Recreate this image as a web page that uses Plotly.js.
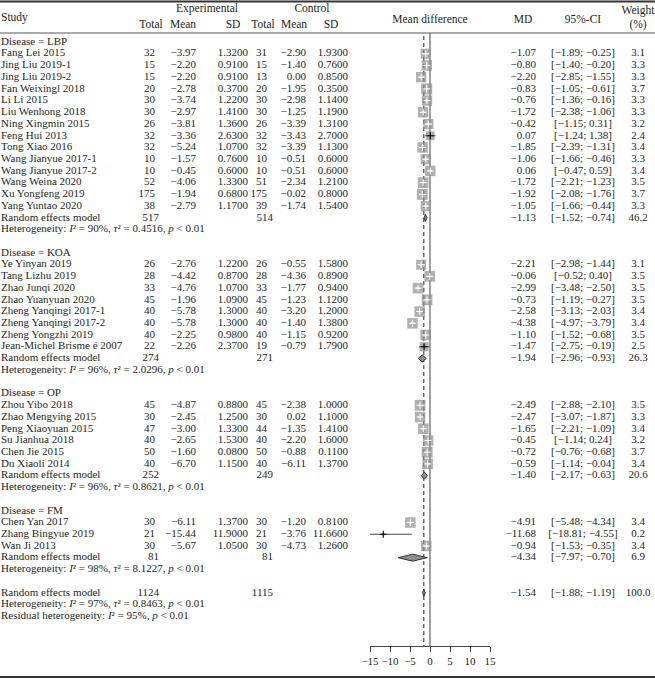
<!DOCTYPE html>
<html>
<head>
<meta charset="utf-8">
<script src="https://cdn.plot.ly/plotly-3.0.1.min.js"></script>
<style>html,body{margin:0;padding:0;background:#fff;}#chart{width:655px;height:680px;}</style>
</head>
<body>
<div id="chart"></div>
<script>
// ---------------- DATA ----------------
const groupNames = ['LBP', 'KOA', 'OP', 'FM'];

const studyNames = [
  'Fang Lei 2015', 'Jing Liu 2019-1', 'Jing Liu 2019-2', 'Fan Weixingl 2018', 'Li Li 2015',
  'Liu Wenhong 2018', 'Ning Xingmin 2015', 'Feng Hui 2013', 'Tong Xiao 2016', 'Wang Jianyue 2017-1',
  'Wang Jianyue 2017-2', 'Wang Weina 2020', 'Xu Yongfeng 2019', 'Yang Yuntao 2020',
  'Ye Yinyan 2019', 'Tang Lizhu 2019', 'Zhao Junqi 2020', 'Zhao Yuanyuan 2020', 'Zheng Yanqingi 2017-1',
  'Zheng Yanqingi 2017-2', 'Zheng Yongzhi 2019', 'Jean-Michel Brisme é 2007',
  'Zhou Yibo 2018', 'Zhao Mengying 2015', 'Peng Xiaoyuan 2015', 'Su Jianhua 2018', 'Chen Jie 2015', 'Du Xiaoli 2014',
  'Chen Yan 2017', 'Zhang Bingyue 2019', 'Wan Ji 2013'
];
const studyGroup = [0,0,0,0,0,0,0,0,0,0,0,0,0,0, 1,1,1,1,1,1,1,1, 2,2,2,2,2,2, 3,3,3];

const expTotal = [32,15,15,20,30,30,26,32,32,10,10,52,175,38, 26,28,33,45,40,40,40,22, 45,30,47,40,50,40, 30,21,30];
const expMean  = [-3.97,-2.20,-2.20,-2.78,-3.74,-2.97,-3.81,-3.36,-5.24,-1.57,-0.45,-4.06,-1.94,-2.79,
                  -2.76,-4.42,-4.76,-1.96,-5.78,-5.78,-2.25,-2.26,
                  -4.87,-2.45,-3.00,-2.65,-1.60,-6.70,
                  -6.11,-15.44,-5.67];
const expSD    = [1.32,0.91,0.91,0.37,1.22,1.41,1.36,2.63,1.07,0.76,0.60,1.33,0.68,1.17,
                  1.22,0.87,1.07,1.09,1.30,1.30,0.98,2.37,
                  0.88,1.25,1.33,1.53,0.08,1.15,
                  1.37,11.90,1.05];
const ctrlTotal = [31,15,13,20,30,30,26,32,32,10,10,51,175,39, 26,28,33,45,40,40,40,19, 45,30,44,40,50,40, 30,21,30];
const ctrlMean  = [-2.90,-1.40,0.00,-1.95,-2.98,-1.25,-3.39,-3.43,-3.39,-0.51,-0.51,-2.34,-0.02,-1.74,
                   -0.55,-4.36,-1.77,-1.23,-3.20,-1.40,-1.15,-0.79,
                   -2.38,0.02,-1.35,-2.20,-0.88,-6.11,
                   -1.20,-3.76,-4.73];
const ctrlSD    = [1.93,0.76,0.85,0.35,1.14,1.19,1.31,2.70,1.13,0.60,0.60,1.21,0.80,1.54,
                   1.58,0.89,0.94,1.12,1.20,1.38,0.92,1.79,
                   1.00,1.10,1.41,1.60,0.11,1.37,
                   0.81,11.66,1.26];
const mdValues = [-1.07,-0.80,-2.20,-0.83,-0.76,-1.72,-0.42,0.07,-1.85,-1.06,0.06,-1.72,-1.92,-1.05,
                  -2.21,-0.06,-2.99,-0.73,-2.58,-4.38,-1.10,-1.47,
                  -2.49,-2.47,-1.65,-0.45,-0.72,-0.59,
                  -4.91,-11.68,-0.94];
const ciLower = [-1.89,-1.40,-2.85,-1.05,-1.36,-2.38,-1.15,-1.24,-2.39,-1.66,-0.47,-2.21,-2.08,-1.66,
                 -2.98,-0.52,-3.48,-1.19,-3.13,-4.97,-1.52,-2.75,
                 -2.88,-3.07,-2.21,-1.14,-0.76,-1.14,
                 -5.48,-18.81,-1.53];
const ciUpper = [-0.25,-0.20,-1.55,-0.61,-0.16,-1.06,0.31,1.38,-1.31,-0.46,0.59,-1.23,-1.76,-0.44,
                 -1.44,0.40,-2.50,-0.27,-2.03,-3.79,-0.68,-0.19,
                 -2.10,-1.87,-1.09,0.24,-0.68,-0.04,
                 -4.34,-4.55,-0.35];
const weights = [3.1,3.3,3.3,3.7,3.3,3.3,3.2,2.4,3.4,3.3,3.4,3.5,3.7,3.3,
                 3.1,3.5,3.5,3.5,3.4,3.4,3.5,2.5,
                 3.5,3.3,3.4,3.2,3.7,3.4,
                 3.4,0.2,3.4];

const groupExpTotal  = [517, 274, 252, 81];
const groupCtrlTotal = [514, 271, 249, 81];
const groupMD        = [-1.13, -1.94, -1.40, -4.34];
const groupLower     = [-1.52, -2.96, -2.17, -7.97];
const groupUpper     = [-0.74, -0.93, -0.63, -0.70];
const groupWeight    = [46.2, 26.3, 20.6, 6.9];
const groupI2        = ['90%', '96%', '96%', '98%'];
const groupTau2      = ['0.4516', '2.0296', '0.8621', '8.1227'];

const overallExpTotal = 1124, overallCtrlTotal = 1115;
const overallMD = -1.54, overallLower = -1.88, overallUpper = -1.19, overallWeight = 100.0;
const overallI2 = '97%', overallTau2 = '0.8463', residualI2 = '95%';

const xTickVals = [-15, -10, -5, 0, 5, 10, 15];

// ---------------- LAYOUT HELPERS ----------------
const W = 655, H = 680;
const ROW0 = 42, ROWH = 11.72;            // pixel of row 0 and row height
const toRow = py => (py - ROW0) / ROWH;   // pixel -> row units
const FONT = 'Liberation Serif, Times New Roman, serif';
const FS = 11;
const TXT = '#231f20';

const m = v => (v < 0 ? '\u2212' : '') + Math.abs(v).toFixed(2);
const sd = v => v.toFixed(4);
const ci = (a, b) => '[' + m(a) + '; ' + m(b) + ']';
const het = (i2, t2) => 'Heterogeneity: <i>I</i>\u00b2 = ' + i2 + ', <i>\u03c4</i>\u00b2 = ' + t2 + ', <i>p</i> &lt; 0.01';

// columns (paper pixel x)
const COL = {study: 1, eTot: 155, eMean: 196, eSD: 248, cTot: 267, cMean: 306, cSD: 348,
             md: 536, ci: 583, w: 638, eTotRE: 159, cTotRE: 273};

const cells = {};
function cell(col, row, text) {
  (cells[col] = cells[col] || {x: [], y: [], t: []});
  cells[col].x.push(COL[col]); cells[col].y.push(row); cells[col].t.push(text);
}

const sqX = [], sqY = [], sqS = [];
const inX = [], inY = [], inP = [], inM = [];
const outX = [], outY = [], outP = [], outM = [];
const diamonds = [];

let r = 0;
groupNames.forEach((g, gi) => {
  cell('study', r, 'Disease = ' + g);
  r++;
  studyNames.forEach((name, i) => {
    if (studyGroup[i] !== gi) return;
    cell('study', r, name);
    cell('eTot', r, String(expTotal[i]));
    cell('eMean', r, m(expMean[i]));
    cell('eSD', r, sd(expSD[i]));
    cell('cTot', r, String(ctrlTotal[i]));
    cell('cMean', r, m(ctrlMean[i]));
    cell('cSD', r, sd(ctrlSD[i]));
    cell('md', r, m(mdValues[i]));
    cell('ci', r, ci(ciLower[i], ciUpper[i]));
    cell('w', r, weights[i].toFixed(1));
    const size = 10.5 * Math.sqrt(weights[i] / 3.4);
    sqX.push(mdValues[i]); sqY.push(r); sqS.push(size);
    const widthPx = (ciUpper[i] - ciLower[i]) * 4;
    if (widthPx > size) {
      outX.push(mdValues[i]); outY.push(r); outP.push(ciUpper[i] - mdValues[i]); outM.push(mdValues[i] - ciLower[i]);
    } else {
      inX.push(mdValues[i]); inY.push(r); inP.push(ciUpper[i] - mdValues[i]); inM.push(mdValues[i] - ciLower[i]);
    }
    r++;
  });
  cell('study', r, 'Random effects model');
  cell('eTotRE', r, String(groupExpTotal[gi]));
  cell('cTotRE', r, String(groupCtrlTotal[gi]));
  cell('md', r, m(groupMD[gi]));
  cell('ci', r, ci(groupLower[gi], groupUpper[gi]));
  cell('w', r, groupWeight[gi].toFixed(1));
  diamonds.push({lo: groupLower[gi], md: groupMD[gi], hi: groupUpper[gi], row: r});
  r++;
  cell('study', r, het(groupI2[gi], groupTau2[gi]));
  r += 2;
});
cell('study', r, 'Random effects model');
cell('eTotRE', r, String(overallExpTotal));
cell('cTotRE', r, String(overallCtrlTotal));
cell('md', r, m(overallMD));
cell('ci', r, ci(overallLower, overallUpper));
cell('w', r, overallWeight.toFixed(1));
diamonds.push({lo: overallLower, md: overallMD, hi: overallUpper, row: r});
r++;
cell('study', r, het(overallI2, overallTau2));
r++;
cell('study', r, 'Residual heterogeneity: <i>I</i>\u00b2 = ' + residualI2 + ', <i>p</i> &lt; 0.01');

const AXIS_PX = 646;
const axisRow = toRow(AXIS_PX);

// ---------------- TRACES ----------------
const traces = [];
traces.push({x: [0, 0], y: [toRow(33), axisRow], mode: 'lines', line: {color: '#8a8a8a', width: 1.6},
  xaxis: 'x', yaxis: 'y', hoverinfo: 'skip', showlegend: false});
traces.push({x: [overallMD, overallMD], y: [toRow(36), axisRow], mode: 'lines',
  line: {color: '#222', width: 1, dash: '4px,3px'}, xaxis: 'x', yaxis: 'y', hoverinfo: 'skip', showlegend: false});

traces.push({x: sqX, y: sqY, mode: 'markers', marker: {symbol: 'square', size: sqS, color: '#8e8e8e', line: {width: 0}},
  xaxis: 'x', yaxis: 'y', hoverinfo: 'skip', showlegend: false, cliponaxis: false});
traces.push({x: inX, y: inY, mode: 'markers',
  marker: {symbol: 'cross-thin', size: 5, color: '#fff', line: {color: '#fff', width: 1}},
  error_x: {type: 'data', symmetric: false, array: inP, arrayminus: inM, color: '#fff', thickness: 1, width: 0},
  xaxis: 'x', yaxis: 'y', hoverinfo: 'skip', showlegend: false, cliponaxis: false});
traces.push({x: outX, y: outY, mode: 'markers',
  marker: {symbol: 'cross-thin', size: 5, color: '#111', line: {color: '#111', width: 1.2}},
  error_x: {type: 'data', symmetric: false, array: outP, arrayminus: outM, color: '#444', thickness: 1, width: 0},
  xaxis: 'x', yaxis: 'y', hoverinfo: 'skip', showlegend: false, cliponaxis: false});

const DH = 0.3;
diamonds.forEach(d => {
  traces.push({x: [d.lo, d.md, d.hi, d.md, d.lo], y: [d.row, d.row - DH, d.row, d.row + DH, d.row],
    mode: 'lines', fill: 'toself', fillcolor: '#8e8e8e', line: {color: '#333', width: 1},
    xaxis: 'x', yaxis: 'y', hoverinfo: 'skip', showlegend: false});
});

const posMap = {study: 'middle right', ci: 'middle center', w: 'middle center'};
Object.keys(cells).forEach(col => {
  traces.push({x: cells[col].x, y: cells[col].y, text: cells[col].t, mode: 'text',
    textposition: posMap[col] || 'middle left', textfont: {family: FONT, size: FS, color: TXT},
    xaxis: 'x2', yaxis: 'y', hoverinfo: 'skip', showlegend: false, cliponaxis: false});
});

const headers = [
  {x: 1, py: 18, t: 'Study', p: 'middle right'},
  {x: 207, py: 9, t: 'Experimental', p: 'middle center'},
  {x: 151, py: 25, t: 'Total', p: 'middle center'},
  {x: 183, py: 25, t: 'Mean', p: 'middle center'},
  {x: 233, py: 25, t: 'SD', p: 'middle center'},
  {x: 312, py: 9, t: 'Control', p: 'middle center'},
  {x: 263, py: 25, t: 'Total', p: 'middle center'},
  {x: 294, py: 25, t: 'Mean', p: 'middle center'},
  {x: 331, py: 25, t: 'SD', p: 'middle center'},
  {x: 430, py: 20, t: 'Mean difference', p: 'middle center'},
  {x: 523, py: 20, t: 'MD', p: 'middle center'},
  {x: 583, py: 20, t: '95%-CI', p: 'middle center'},
  {x: 638, py: 11, t: 'Weight', p: 'middle center'},
  {x: 638, py: 25, t: '(%)', p: 'middle center'}
];
traces.push({x: headers.map(h => h.x), y: headers.map(h => toRow(h.py)), text: headers.map(h => h.t),
  mode: 'text', textposition: headers.map(h => h.p), textfont: {family: FONT, size: 11.5, color: TXT},
  xaxis: 'x2', yaxis: 'y', hoverinfo: 'skip', showlegend: false, cliponaxis: false});

const layout = {
  width: W, height: H,
  margin: {l: 0, r: 0, t: 0, b: 0},
  paper_bgcolor: '#fff', plot_bgcolor: 'rgba(0,0,0,0)',
  showlegend: false,
  font: {family: FONT, size: FS, color: TXT},
  xaxis: {domain: [370 / W, 490 / W], range: [-15, 15], anchor: 'free', position: 1 - AXIS_PX / H,
    showgrid: false, zeroline: false, showline: true, linecolor: '#444', linewidth: 1,
    ticks: 'outside', ticklen: 5, tickwidth: 1, tickcolor: '#444', tickvals: xTickVals, tickangle: 0,
    tickfont: {family: FONT, size: 11, color: TXT}, fixedrange: true},
  xaxis2: {domain: [0, 1], range: [0, W], anchor: 'y', visible: false, fixedrange: true},
  yaxis: {domain: [0, 1], range: [toRow(H), toRow(0)], visible: false, fixedrange: true},
  shapes: [
    {type: 'line', xref: 'paper', yref: 'paper', x0: 0, x1: 1, y0: 1 - 1.5 / H, y1: 1 - 1.5 / H, line: {color: '#333', width: 2}},
    {type: 'line', xref: 'paper', yref: 'paper', x0: 0, x1: 1, y0: 1 - 33 / H, y1: 1 - 33 / H, line: {color: '#555', width: 1}},
    {type: 'line', xref: 'paper', yref: 'paper', x0: 0, x1: 1, y0: 1 - 677 / H, y1: 1 - 677 / H, line: {color: '#333', width: 2}}
  ]
};

Plotly.newPlot('chart', traces, layout, {staticPlot: true, displayModeBar: false});
</script>
</body>
</html>
